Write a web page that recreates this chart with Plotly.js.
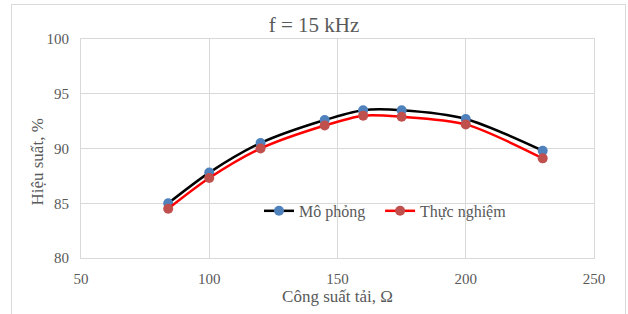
<!DOCTYPE html>
<html>
<head>
<meta charset="utf-8">
<script src="https://cdn.plot.ly/plotly-3.0.1.min.js"></script>
<style>
  html, body { margin: 0; padding: 0; background: #fff; }
  #wrap { position: relative; width: 628px; height: 314px; }
  #chart { width: 628px; height: 314px; }
  #chart text { font-family: 'Liberation Serif', 'Times New Roman', serif !important; }
  #frame { position: absolute; left: 11px; top: 4px; width: 613px; height: 320px; border: 1px solid #d9d9d9; pointer-events: none; }
</style>
</head>
<body>
<div id="wrap">
  <div id="chart"></div>
  <div id="frame"></div>
</div>
<script>
const loadOhm = [84, 100, 120, 145, 160, 175, 200, 230];
const moPhong = [85.0, 87.8, 90.5, 92.6, 93.5, 93.5, 92.7, 89.8];
const thucNghiem = [84.5, 87.3, 90.0, 92.1, 93.0, 92.9, 92.2, 89.1];
const seriesNames = ["Mô phỏng", "Thực nghiệm"];
const xTicks = [50, 100, 150, 200, 250];
const yTicks = [80, 85, 90, 95, 100];
const titleText = "f = 15 kHz";
const xTitle = "Công suất tải, Ω";
const yTitle = "Hiệu suất, %";

const font = "Liberation Serif";

const traces = [
  {
    x: loadOhm, y: moPhong, name: seriesNames[0], type: "scatter", mode: "lines+markers",
    line: { color: "#000000", width: 2.5, shape: "spline", smoothing: 0.8 },
    marker: { color: "#4F81BD", size: 10 }, legend: "legend"
  },
  {
    x: loadOhm, y: thucNghiem, name: seriesNames[1], type: "scatter", mode: "lines+markers",
    line: { color: "#FF0000", width: 2.5, shape: "spline", smoothing: 0.8 },
    marker: { color: "#C0504D", size: 10 }, legend: "legend2"
  }
];

const legendBase = {
  orientation: "h", y: 0.215, xanchor: "left", yanchor: "middle",
  bgcolor: "rgba(0,0,0,0)", font: { family: font, size: 16, color: "#595959" },
  itemwidth: 30
};

const layout = {
  width: 628, height: 314,
  margin: { l: 81, r: 34, t: 39, b: 56 },
  paper_bgcolor: "rgba(0,0,0,0)",
  plot_bgcolor: "#ffffff",
  font: { family: font, color: "#595959", size: 15 },
  title: { text: titleText, x: 0.5, xanchor: "center", y: 0.92, yanchor: "middle", font: { family: font, size: 21, color: "#595959" } },
  xaxis: {
    range: [50, 250], tickvals: xTicks, ticktext: xTicks.map(String),
    showgrid: true, gridcolor: "#d9d9d9", gridwidth: 1,
    showline: true, linecolor: "#d9d9d9", linewidth: 1, mirror: true,
    zeroline: false, ticks: "", ticklabelstandoff: 7,
    tickfont: { family: font, size: 15, color: "#595959" },
    title: { text: xTitle, standoff: 2, font: { family: font, size: 17, color: "#595959" } }
  },
  yaxis: {
    range: [80, 100], tickvals: yTicks, ticktext: yTicks.map(String),
    showgrid: true, gridcolor: "#d9d9d9", gridwidth: 1,
    showline: true, linecolor: "#d9d9d9", linewidth: 1, mirror: true,
    zeroline: false, ticks: "", ticklabelstandoff: 8,
    tickfont: { family: font, size: 15, color: "#595959" }
  },
  annotations: [{
    text: yTitle, xref: "paper", yref: "paper", x: -0.084, y: 0.44,
    xanchor: "center", yanchor: "middle", textangle: -90, showarrow: false,
    font: { family: font, size: 17, color: "#595959" }
  }],
  showlegend: true,
  legend: Object.assign({}, legendBase, { x: 0.347 }),
  legend2: Object.assign({}, legendBase, { x: 0.583 })
};

Plotly.newPlot("chart", traces, layout, { displayModeBar: false, staticPlot: true });
</script>
</body>
</html>
